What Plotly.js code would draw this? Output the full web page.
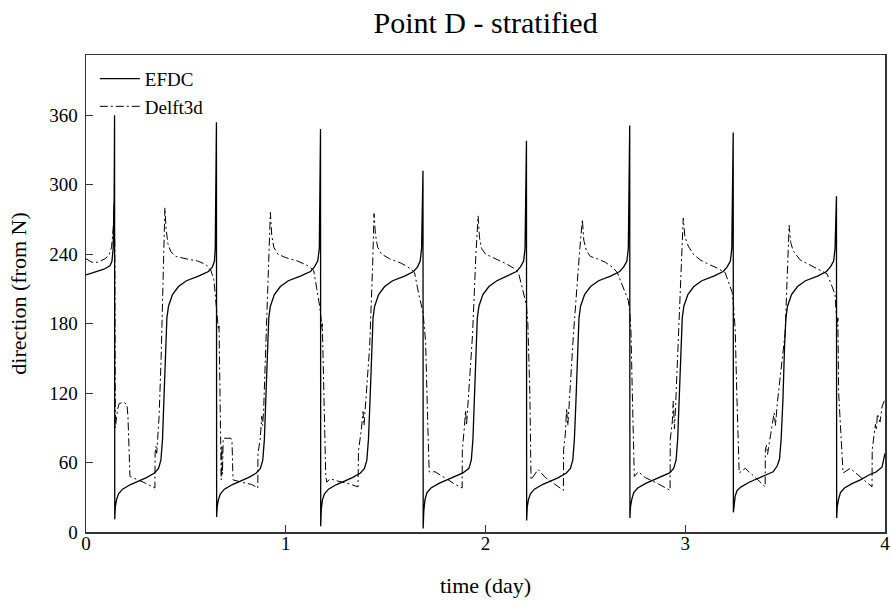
<!DOCTYPE html>
<html>
<head>
<meta charset="utf-8">
<script src="https://cdn.plot.ly/plotly-3.0.1.min.js"></script>
<style>html,body{margin:0;padding:0;background:#fff;}#chart{width:891px;height:603px;}</style>
</head>
<body>
<div id="chart"></div>
<script>
const chartTitle = "Point D - stratified";
const xLabel = "time (day)";
const yLabel = "direction (from N)";
const seriesNames = ["EFDC", "Delft3d"];
const xTicks = [0, 1, 2, 3, 4];
const yTicks = [0, 60, 120, 180, 240, 300, 360];

const efdcT = [
0.000,0.040,0.090,0.120,0.130,0.136,0.141,0.143,0.144,
0.147,0.153,0.163,0.183,0.223,0.263,0.303,0.343,0.363,0.375,0.383,0.390,0.398,0.405,0.413,0.433,0.463,0.503,0.563,0.613,0.633,0.643,0.647,0.651,0.653,0.654,
0.657,0.663,0.673,0.693,0.733,0.773,0.813,0.853,0.873,0.885,0.893,0.900,0.908,0.915,0.923,0.943,0.973,1.013,1.073,1.124,1.144,1.160,1.168,1.172,1.174,1.175,
1.178,1.184,1.194,1.214,1.254,1.294,1.334,1.374,1.394,1.406,1.414,1.422,1.430,1.437,1.445,1.465,1.495,1.535,1.595,1.640,1.660,1.673,1.680,1.685,1.687,1.688,
1.691,1.697,1.707,1.727,1.767,1.807,1.847,1.887,1.917,1.929,1.937,1.944,1.952,1.959,1.967,1.987,2.017,2.057,2.107,2.155,2.175,2.191,2.198,2.203,2.205,2.206,
2.209,2.215,2.225,2.245,2.285,2.325,2.365,2.405,2.425,2.437,2.445,2.453,2.461,2.468,2.476,2.496,2.526,2.566,2.626,2.672,2.692,2.708,2.715,2.719,2.722,2.723,
2.726,2.732,2.742,2.762,2.802,2.842,2.882,2.922,2.942,2.954,2.962,2.970,2.978,2.985,2.993,3.013,3.043,3.083,3.143,3.190,3.210,3.226,3.233,3.237,3.240,3.241,
3.244,3.250,3.260,3.280,3.320,3.360,3.400,3.440,3.460,3.472,3.480,3.489,3.497,3.504,3.512,3.532,3.562,3.602,3.662,3.707,3.727,3.743,3.750,3.754,3.757,3.758,
3.761,3.767,3.777,3.797,3.837,3.877,3.917,3.957,3.985,4.000];
const efdcV = [
222,224,227,230,234,245,290,360,11,
22,28,33,37,41,44,47,51,55,62,80,114,160,185,195,205,212,217,221,225,229,234,245,290,354,13,
22,28,33,37,41,44,47,51,55,62,80,114,160,185,195,205,212,217,221,225,229,234,245,290,348,5,
20,28,33,37,41,44,47,51,55,62,80,114,160,185,195,205,212,217,221,225,229,234,245,280,312,3,
18,28,34,38,42,45,48,51,55,62,80,114,160,185,195,205,212,217,221,225,229,234,245,290,338,10,
22,28,33,37,41,44,47,51,55,62,80,114,160,185,195,205,212,217,221,225,229,234,245,290,351,12,
22,28,34,38,42,45,48,51,55,62,80,114,160,185,195,205,212,217,221,225,229,234,245,290,345,17,
25,31,36,39,43,46,49,52,57,63,80,114,160,185,195,205,212,217,221,225,229,234,245,270,290,12,
22,28,34,38,42,45,49,52,56,68];

const delftT = [
0.000,0.030,0.060,0.095,0.115,0.128,0.136,0.141,0.144,0.147,0.151,0.158,0.166,0.190,0.205,0.210,0.220,0.250,0.300,0.345,0.346,0.350,0.354,0.358,0.366,0.376,0.386,0.395,0.401,0.410,0.425,0.450,0.500,0.560,0.600,0.625,0.640,0.650,0.658,0.663,0.666,0.670,0.674,0.677,0.680,0.683,0.687,0.725,0.731,0.736,0.780,0.830,0.860,
0.861,0.872,0.880,0.884,0.889,0.900,0.912,0.923,0.930,0.940,0.960,1.000,1.060,1.110,1.140,1.155,1.170,1.178,1.181,1.183,1.190,1.200,1.205,1.222,1.260,1.310,1.362,
1.364,1.378,1.387,1.392,1.398,1.420,1.435,1.442,1.449,1.460,1.480,1.520,1.580,1.620,1.645,1.665,1.687,1.692,1.696,1.700,1.710,1.718,1.748,1.800,1.850,1.883,
1.884,1.894,1.900,1.905,1.910,1.935,1.952,1.963,1.970,1.980,2.000,2.050,2.100,2.140,2.165,2.185,2.205,2.212,2.222,2.228,2.240,2.263,2.300,2.350,2.390,
2.391,2.400,2.406,2.412,2.418,2.440,2.470,2.485,2.492,2.505,2.525,2.560,2.600,2.640,2.660,2.690,2.715,2.722,2.728,2.735,2.745,2.765,2.800,2.860,2.924,
2.925,2.935,2.940,2.946,2.952,2.970,2.982,2.990,2.998,3.015,3.040,3.075,3.120,3.160,3.200,3.220,3.235,3.242,3.250,3.258,3.270,3.300,3.340,3.370,3.400,
3.401,3.407,3.412,3.418,3.445,3.452,3.460,3.500,3.512,3.520,3.528,3.540,3.575,3.620,3.660,3.690,3.710,3.735,3.750,3.756,3.760,3.764,3.768,3.790,3.826,3.860,3.900,3.935,
3.936,3.945,3.952,3.957,3.962,3.975,3.985,4.000];
const delftV = [
236,233,233,236,239,246,262,283,250,90,96,106,111,112,110,100,48,46,42,38,68,74,68,78,100,150,220,280,262,249,242,238,236,234,231,226,218,200,185,175,178,110,60,45,75,50,81,81,78,45,43,41,38,
68,80,100,92,104,160,225,276,256,246,240,237,234,230,226,212,195,182,175,180,120,50,43,46,44,42,39,
70,88,104,92,106,160,230,275,257,246,240,236,232,228,224,206,190,178,172,165,100,52,52,46,41,38,
71,90,105,92,106,170,240,273,254,245,240,236,232,228,224,210,196,180,120,45,48,54,47,41,36,
71,85,107,92,108,170,240,270,252,243,238,236,233,228,224,210,200,190,175,120,48,52,47,42,36,
80,95,113,89,110,180,240,271,255,247,240,235,231,228,224,214,207,195,175,120,51,55,49,44,39,
71,75,67,74,103,92,110,172,230,265,250,243,235,231,228,225,223,212,205,188,177,185,120,51,55,50,44,39,
71,82,93,88,102,95,108,115];

const efdc = {
  x: efdcT, y: efdcV, name: seriesNames[0], type: "scatter", mode: "lines",
  line: {color: "#000000", width: 1.3, dash: "solid"}
};
const delft = {
  x: delftT, y: delftV, name: seriesNames[1], type: "scatter", mode: "lines",
  line: {color: "#000000", width: 1, dash: "8px,3px,2px,3px"}
};

const fontFam = "Liberation Serif, Times New Roman, serif";
const layout = {
  width: 891, height: 603,
  paper_bgcolor: "#ffffff", plot_bgcolor: "#ffffff",
  margin: {l: 86, r: 6, t: 55, b: 71},
  font: {family: fontFam, color: "#000000", size: 19},
  title: {text: chartTitle, font: {family: fontFam, size: 30, color: "#000"}, x: 0.545, xanchor: "center", y: 0.963, yanchor: "middle", yref: "container"},
  showlegend: true,
  legend: {x: 0.011, y: 0.99, xanchor: "left", yanchor: "top", bgcolor: "rgba(0,0,0,0)", font: {family: fontFam, size: 19}, tracegroupgap: 0, itemwidth: 40},
  xaxis: {
    range: [0, 4], tickvals: xTicks, ticktext: xTicks.map(String),
    ticks: "inside", ticklen: 7, tickcolor: "#333", tickwidth: 1,
    showline: true, linecolor: "#333", linewidth: 1.5, mirror: true,
    showgrid: false, zeroline: false, ticklabelstandoff: -6,
    tickfont: {family: fontFam, size: 19},
    title: {text: xLabel, font: {family: fontFam, size: 22}, standoff: 24}
  },
  yaxis: {
    range: [0, 412], tickvals: yTicks, ticktext: yTicks.map(String),
    ticks: "inside", ticklen: 7, tickcolor: "#333", tickwidth: 1,
    showline: true, linecolor: "#333", linewidth: 1.5, mirror: true,
    showgrid: false, zeroline: false, ticklabelstandoff: 3,
    tickfont: {family: fontFam, size: 19},
    title: {text: yLabel, font: {family: fontFam, size: 22}, standoff: 16}
  }
};
Plotly.newPlot("chart", [efdc, delft], layout, {displayModeBar: false, staticPlot: true});
</script>
</body>
</html>
